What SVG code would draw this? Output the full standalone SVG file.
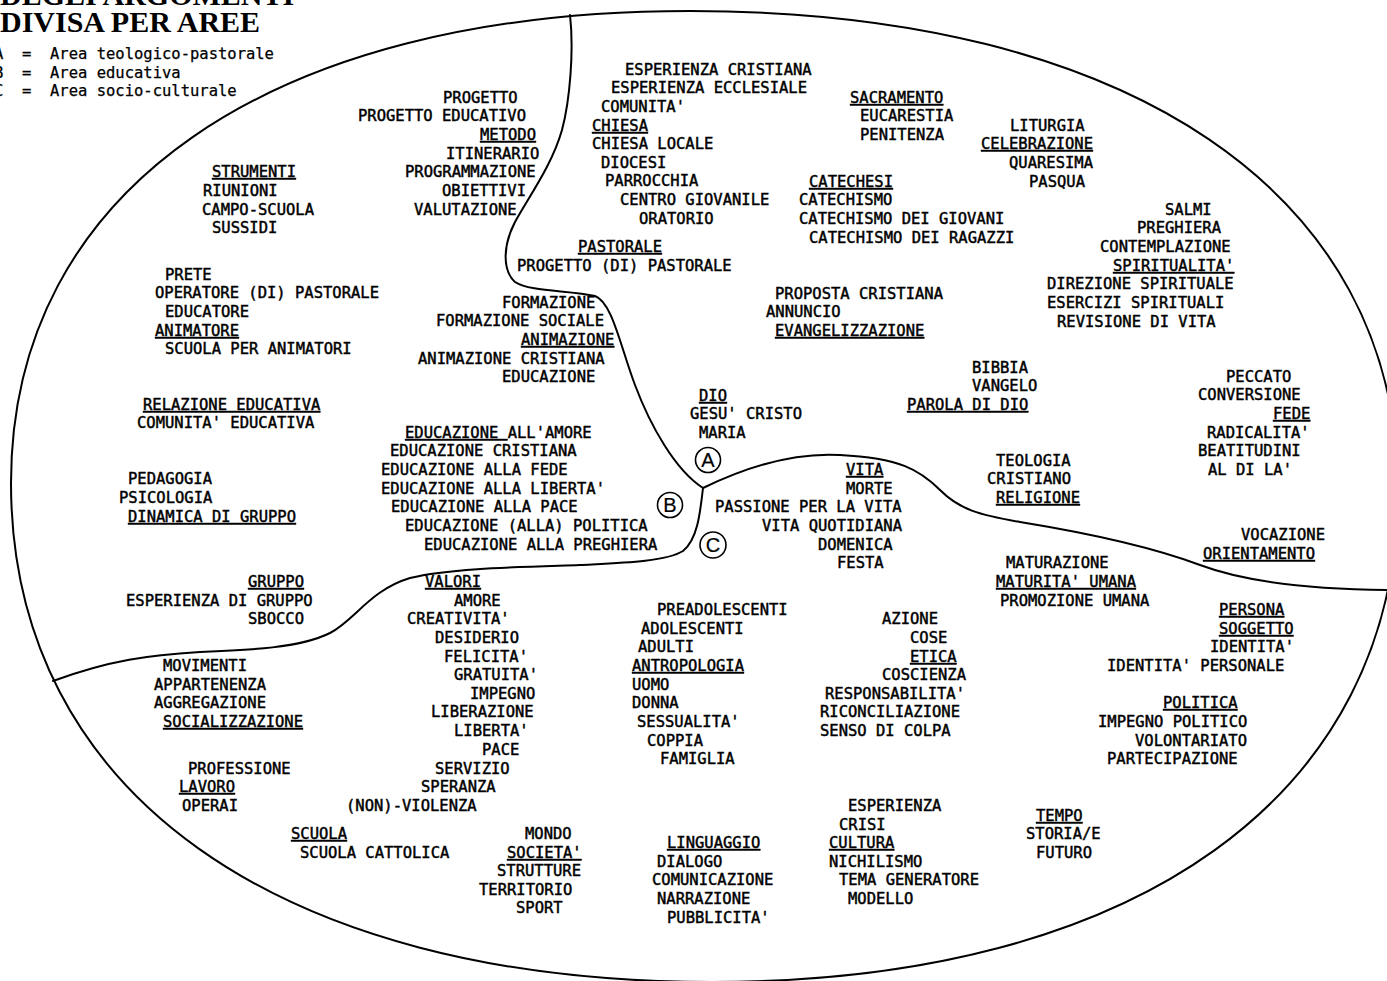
<svg xmlns="http://www.w3.org/2000/svg" width="1387" height="981" viewBox="0 0 1387 981">
<style>
text{font-family:"DejaVu Sans Mono","Liberation Mono",monospace;font-size:15.5px;fill:#000;stroke:#000;stroke-width:0.45px}
.u{text-decoration:underline;text-decoration-thickness:1.6px;text-underline-offset:2px}
.title{font-family:"Liberation Serif","Times New Roman",serif;font-weight:bold;font-size:30px;stroke:none}
.lg{stroke-width:0.25px}
.ln{fill:none;stroke:#000;stroke-width:2;stroke-linecap:round;stroke-linejoin:round}
.circ{fill:#fff;stroke:#000;stroke-width:1.6}
.cl{font-family:"Liberation Sans",Arial,sans-serif;font-size:20px;text-anchor:middle;stroke-width:0.2px}
</style>
<rect width="1387" height="981" fill="#fff"/>
<g id="title">
<text class="title" x="0" y="5">DEGLI ARGOMENTI</text>
<text class="title" x="0" y="32">DIVISA PER AREE</text>
</g>
<g id="legend">
<text class="lg" x="-6" y="59" xml:space="preserve">A  =  Area teologico-pastorale</text>
<text class="lg" x="-6" y="77.5" xml:space="preserve">B  =  Area educativa</text>
<text class="lg" x="-6" y="96" xml:space="preserve">C  =  Area socio-culturale</text>
</g>
<g id="connectors">
<path id="outline" class="ln" d="M 690 11 C 1129 11, 1398 193, 1398 490 C 1398 795, 1137 982, 712 982 C 277 982, 11 792, 11 483 C 11 190, 269 11, 690 11 Z"/>
<path id="divAB" class="ln" d="M 570 15 C 574 50, 570 100, 562 130 C 552 165, 530 195, 515 222 C 503 245, 502 270, 515 282 C 530 292, 570 290, 595 296 C 612 302, 620 345, 635 385 C 650 425, 675 470, 703 488"/>
<path id="divAC" class="ln" d="M 703 488 C 740 470, 790 452, 840 455 C 900 458, 920 470, 940 490 C 960 510, 980 515, 1020 522 C 1100 535, 1160 550, 1200 565 C 1240 580, 1300 590, 1400 590"/>
<path id="divBC" class="ln" d="M 703 488 C 700 515, 697 540, 683 551 C 665 562, 620 563, 580 565 C 520 567, 450 568, 410 578 C 370 590, 355 620, 330 633 C 300 648, 250 650, 200 652 C 150 655, 110 660, 53 681"/>
</g>
<g id="labelA"><circle class="circ" cx="708" cy="460" r="12.5"/><text class="cl" x="708" y="467">A</text></g>
<g id="labelB"><circle class="circ" cx="670" cy="505" r="12.5"/><text class="cl" x="670" y="512">B</text></g>
<g id="labelC"><circle class="circ" cx="713" cy="545" r="13"/><text class="cl" x="713" y="552">C</text></g>

<g id="chiesa">
<text x="625" y="75">ESPERIENZA CRISTIANA</text>
<text x="611" y="93">ESPERIENZA ECCLESIALE</text>
<text x="601" y="112">COMUNITA'</text>
<text class="u" x="592" y="131">CHIESA</text>
<text x="592" y="149">CHIESA LOCALE</text>
<text x="601" y="168">DIOCESI</text>
<text x="605" y="186">PARROCCHIA</text>
<text x="620" y="205">CENTRO GIOVANILE</text>
<text x="639" y="224">ORATORIO</text>
</g>
<g id="pastorale">
<text class="u" x="578" y="252">PASTORALE</text>
<text x="517" y="271">PROGETTO (DI) PASTORALE</text>
</g>
<g id="metodo">
<text x="443" y="103">PROGETTO</text>
<text x="358" y="121">PROGETTO EDUCATIVO</text>
<text class="u" x="480" y="140">METODO</text>
<text x="446" y="159">ITINERARIO</text>
<text x="405" y="177">PROGRAMMAZIONE</text>
<text x="442" y="196">OBIETTIVI</text>
<text x="414" y="215">VALUTAZIONE</text>
</g>
<g id="strumenti">
<text class="u" x="212" y="177">STRUMENTI</text>
<text x="203" y="196">RIUNIONI</text>
<text x="202" y="215">CAMPO-SCUOLA</text>
<text x="212" y="233">SUSSIDI</text>
</g>
<g id="animatore">
<text x="165" y="280">PRETE</text>
<text x="155" y="298">OPERATORE (DI) PASTORALE</text>
<text x="165" y="317">EDUCATORE</text>
<text class="u" x="155" y="336">ANIMATORE</text>
<text x="165" y="354">SCUOLA PER ANIMATORI</text>
</g>
<g id="animazione">
<text x="502" y="308">FORMAZIONE</text>
<text x="436" y="326">FORMAZIONE SOCIALE</text>
<text class="u" x="521" y="345">ANIMAZIONE</text>
<text x="418" y="364">ANIMAZIONE CRISTIANA</text>
<text x="502" y="382">EDUCAZIONE</text>
</g>
<g id="relazione">
<text class="u" x="143" y="410">RELAZIONE EDUCATIVA</text>
<text x="137" y="428">COMUNITA' EDUCATIVA</text>
</g>
<g id="educazione">
<text x="405" y="438" xml:space="preserve"><tspan class="u">EDUCAZIONE </tspan>ALL'AMORE</text>
<text x="390" y="456">EDUCAZIONE CRISTIANA</text>
<text x="381" y="475">EDUCAZIONE ALLA FEDE</text>
<text x="381" y="494">EDUCAZIONE ALLA LIBERTA'</text>
<text x="391" y="512">EDUCAZIONE ALLA PACE</text>
<text x="405" y="531">EDUCAZIONE (ALLA) POLITICA</text>
<text x="424" y="550">EDUCAZIONE ALLA PREGHIERA</text>
</g>
<g id="dinamica">
<text x="128" y="484">PEDAGOGIA</text>
<text x="119" y="503">PSICOLOGIA</text>
<text class="u" x="128" y="522">DINAMICA DI GRUPPO</text>
</g>
<g id="gruppo">
<text class="u" x="248" y="587">GRUPPO</text>
<text x="126" y="606">ESPERIENZA DI GRUPPO</text>
<text x="248" y="624">SBOCCO</text>
</g>
<g id="dio">
<text class="u" x="699" y="401">DIO</text>
<text x="690" y="419">GESU' CRISTO</text>
<text x="699" y="438">MARIA</text>
</g>
<g id="sacramento">
<text class="u" x="850" y="103">SACRAMENTO</text>
<text x="860" y="121">EUCARESTIA</text>
<text x="860" y="140">PENITENZA</text>
</g>
<g id="celebrazione">
<text x="1010" y="131">LITURGIA</text>
<text class="u" x="981" y="149">CELEBRAZIONE</text>
<text x="1009" y="168">QUARESIMA</text>
<text x="1029" y="187">PASQUA</text>
</g>
<g id="catechesi">
<text class="u" x="809" y="187">CATECHESI</text>
<text x="799" y="205">CATECHISMO</text>
<text x="799" y="224">CATECHISMO DEI GIOVANI</text>
<text x="809" y="243">CATECHISMO DEI RAGAZZI</text>
</g>
<g id="spiritualita">
<text x="1165" y="215">SALMI</text>
<text x="1137" y="233">PREGHIERA</text>
<text x="1100" y="252">CONTEMPLAZIONE</text>
<text class="u" x="1113" y="271">SPIRITUALITA'</text>
<text x="1047" y="289">DIREZIONE SPIRITUALE</text>
<text x="1047" y="308">ESERCIZI SPIRITUALI</text>
<text x="1057" y="327">REVISIONE DI VITA</text>
</g>
<g id="evangelizzazione">
<text x="775" y="299">PROPOSTA CRISTIANA</text>
<text x="766" y="317">ANNUNCIO</text>
<text class="u" x="775" y="336">EVANGELIZZAZIONE</text>
</g>
<g id="parola">
<text x="972" y="373">BIBBIA</text>
<text x="972" y="391">VANGELO</text>
<text class="u" x="907" y="410">PAROLA DI DIO</text>
</g>
<g id="fede">
<text x="1226" y="382">PECCATO</text>
<text x="1198" y="400">CONVERSIONE</text>
<text class="u" x="1273" y="419">FEDE</text>
<text x="1207" y="438">RADICALITA'</text>
<text x="1198" y="456">BEATITUDINI</text>
<text x="1208" y="475">AL DI LA'</text>
</g>
<g id="religione">
<text x="996" y="466">TEOLOGIA</text>
<text x="987" y="484">CRISTIANO</text>
<text class="u" x="996" y="503">RELIGIONE</text>
</g>
<g id="vita">
<text class="u" x="846" y="475">VITA</text>
<text x="846" y="494">MORTE</text>
<text x="715" y="512">PASSIONE PER LA VITA</text>
<text x="762" y="531">VITA QUOTIDIANA</text>
<text x="818" y="550">DOMENICA</text>
<text x="837" y="568">FESTA</text>
</g>
<g id="orientamento">
<text x="1241" y="540">VOCAZIONE</text>
<text class="u" x="1203" y="559">ORIENTAMENTO</text>
</g>
<g id="maturita">
<text x="1006" y="568">MATURAZIONE</text>
<text class="u" x="996" y="587">MATURITA' UMANA</text>
<text x="1000" y="606">PROMOZIONE UMANA</text>
</g>
<g id="persona">
<text class="u" x="1219" y="615">PERSONA</text>
<text class="u" x="1219" y="634">SOGGETTO</text>
<text x="1210" y="652">IDENTITA'</text>
<text x="1107" y="671">IDENTITA' PERSONALE</text>
</g>
<g id="politica">
<text class="u" x="1163" y="708">POLITICA</text>
<text x="1098" y="727">IMPEGNO POLITICO</text>
<text x="1135" y="746">VOLONTARIATO</text>
<text x="1107" y="764">PARTECIPAZIONE</text>
</g>
<g id="etica">
<text x="882" y="624">AZIONE</text>
<text x="910" y="643">COSE</text>
<text class="u" x="910" y="662">ETICA</text>
<text x="882" y="680">COSCIENZA</text>
<text x="825" y="699">RESPONSABILITA'</text>
<text x="820" y="717">RICONCILIAZIONE</text>
<text x="820" y="736">SENSO DI COLPA</text>
</g>
<g id="antropologia">
<text x="657" y="615">PREADOLESCENTI</text>
<text x="641" y="634">ADOLESCENTI</text>
<text x="638" y="652">ADULTI</text>
<text class="u" x="632" y="671">ANTROPOLOGIA</text>
<text x="632" y="690">UOMO</text>
<text x="632" y="708">DONNA</text>
<text x="637" y="727">SESSUALITA'</text>
<text x="647" y="746">COPPIA</text>
<text x="660" y="764">FAMIGLIA</text>
</g>
<g id="valori">
<text class="u" x="425" y="587">VALORI</text>
<text x="454" y="606">AMORE</text>
<text x="407" y="624">CREATIVITA'</text>
<text x="435" y="643">DESIDERIO</text>
<text x="444" y="662">FELICITA'</text>
<text x="454" y="680">GRATUITA'</text>
<text x="470" y="699">IMPEGNO</text>
<text x="431" y="717">LIBERAZIONE</text>
<text x="454" y="736">LIBERTA'</text>
<text x="482" y="755">PACE</text>
<text x="435" y="774">SERVIZIO</text>
<text x="421" y="792">SPERANZA</text>
<text x="346" y="811">(NON)-VIOLENZA</text>
</g>
<g id="socializzazione">
<text x="163" y="671">MOVIMENTI</text>
<text x="154" y="690">APPARTENENZA</text>
<text x="154" y="708">AGGREGAZIONE</text>
<text class="u" x="163" y="727">SOCIALIZZAZIONE</text>
</g>
<g id="lavoro">
<text x="188" y="774">PROFESSIONE</text>
<text class="u" x="179" y="792">LAVORO</text>
<text x="182" y="811">OPERAI</text>
</g>
<g id="scuola">
<text class="u" x="291" y="839">SCUOLA</text>
<text x="300" y="858">SCUOLA CATTOLICA</text>
</g>
<g id="societa">
<text x="525" y="839">MONDO</text>
<text class="u" x="507" y="858">SOCIETA'</text>
<text x="497" y="876">STRUTTURE</text>
<text x="479" y="895">TERRITORIO</text>
<text x="516" y="913">SPORT</text>
</g>
<g id="linguaggio">
<text class="u" x="667" y="848">LINGUAGGIO</text>
<text x="657" y="867">DIALOGO</text>
<text x="652" y="885">COMUNICAZIONE</text>
<text x="657" y="904">NARRAZIONE</text>
<text x="667" y="923">PUBBLICITA'</text>
</g>
<g id="cultura">
<text x="848" y="811">ESPERIENZA</text>
<text x="839" y="830">CRISI</text>
<text class="u" x="829" y="848">CULTURA</text>
<text x="829" y="867">NICHILISMO</text>
<text x="839" y="885">TEMA GENERATORE</text>
<text x="848" y="904">MODELLO</text>
</g>
<g id="tempo">
<text class="u" x="1036" y="821">TEMPO</text>
<text x="1026" y="839">STORIA/E</text>
<text x="1036" y="858">FUTURO</text>
</g>
</svg>
